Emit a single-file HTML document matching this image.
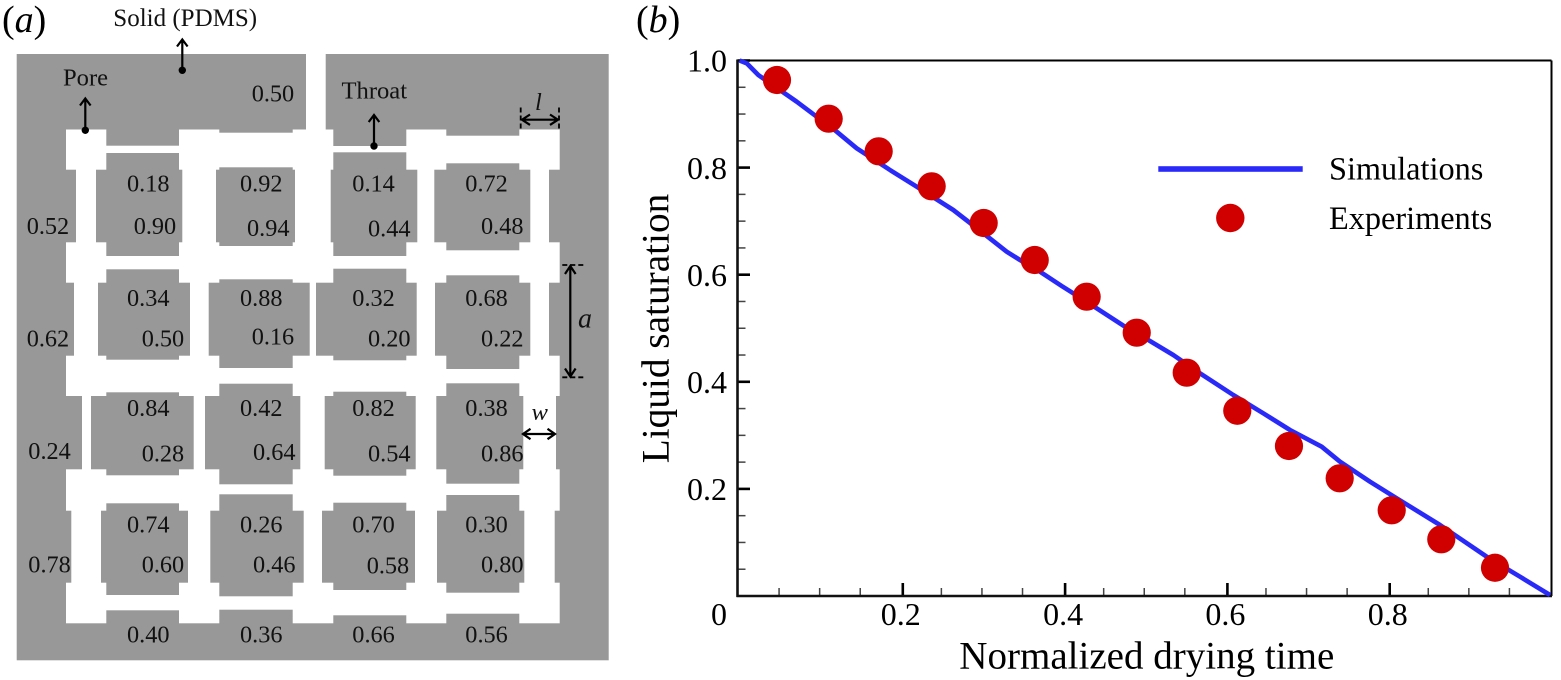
<!DOCTYPE html>
<html lang="en">
<head>
<meta charset="utf-8">
<title>Pore network and drying curve</title>
<style>
html,body{margin:0;padding:0;background:#fff;width:1561px;height:680px;overflow:hidden}
svg{display:block}
text{font-family:"Liberation Serif",serif;fill:#000}
.v{font-size:24.3px;fill:#111}
.a{font-size:24.6px;fill:#111}
.g{fill:#989898}
.arr{fill:none;stroke:#000;stroke-width:2.2}
.dash{stroke:#000;stroke-width:1.8;stroke-dasharray:5 3;fill:none}
.tk{font-size:32px}
</style>
</head>
<body>
<svg xmlns="http://www.w3.org/2000/svg" width="1561" height="680" viewBox="0 0 1561 680">
<rect x="0" y="0" width="1561" height="680" fill="#fff"/>

<g>
<text x="2" y="32" font-size="38">(<tspan font-style="italic">a</tspan>)</text>
<rect class="g" x="16.7" y="54" width="592" height="606.3"/>
<rect x="66" y="129.5" width="493.7" height="493.8" fill="#fff"/>
<rect x="306" y="50" width="19.7" height="82" fill="#fff"/>

<g>
<rect class="g" x="106.3" y="129" width="72.7" height="16.7"/>
<rect class="g" x="219.3" y="129" width="73.4" height="3.7"/>
<rect class="g" x="333.3" y="129" width="73" height="17"/>
<rect class="g" x="446.3" y="129" width="73" height="6.7"/>
</g>
<g>
<rect class="g" x="106.3" y="610.3" width="72.7" height="14"/>
<rect class="g" x="219.3" y="609.7" width="73.4" height="14.6"/>
<rect class="g" x="333.3" y="615.3" width="73" height="9"/>
<rect class="g" x="446.3" y="613.7" width="73" height="10.6"/>
</g>
<g>
<rect class="g" x="65" y="169.7" width="11" height="72.6"/>
<rect class="g" x="65" y="282.7" width="9" height="73"/>
<rect class="g" x="65" y="396" width="17" height="73.3"/>
<rect class="g" x="65" y="510.7" width="6.3" height="72"/>
</g>
<g>
<rect class="g" x="549" y="169.7" width="11.7" height="72.6"/>
<rect class="g" x="549" y="282.7" width="11.7" height="73"/>
<rect class="g" x="556" y="396" width="4.7" height="73.3"/>
<rect class="g" x="554.7" y="510.7" width="6" height="72"/>
</g>

<g><rect class="g" x="106.3" y="153" width="72.7" height="103"/><rect class="g" x="96" y="169.7" width="86.3" height="72.6"/></g>
<g><rect class="g" x="219.3" y="167.3" width="73.4" height="78.7"/><rect class="g" x="216" y="169.7" width="79" height="72.6"/></g>
<g><rect class="g" x="333.3" y="152.3" width="73" height="103.7"/><rect class="g" x="330.7" y="169.7" width="86.6" height="72.6"/></g>
<g><rect class="g" x="446.3" y="163.3" width="73" height="87"/><rect class="g" x="434.3" y="169.7" width="96" height="72.6"/></g>

<g><rect class="g" x="106.3" y="269.3" width="72.7" height="90.4"/><rect class="g" x="98" y="282.7" width="92" height="73"/></g>
<g><rect class="g" x="219.3" y="279.3" width="73.4" height="88.7"/><rect class="g" x="208.7" y="282.7" width="101" height="73"/></g>
<g><rect class="g" x="333.3" y="268.7" width="73" height="91.6"/><rect class="g" x="316" y="282.7" width="100.7" height="73"/></g>
<g><rect class="g" x="446.3" y="275.3" width="73" height="93.7"/><rect class="g" x="435" y="282.7" width="95.3" height="73"/></g>

<g><rect class="g" x="106.3" y="392.3" width="72.7" height="83"/><rect class="g" x="91" y="396" width="102.7" height="73.3"/></g>
<g><rect class="g" x="219.3" y="383.7" width="73.4" height="100.6"/><rect class="g" x="205" y="396" width="95.3" height="73.3"/></g>
<g><rect class="g" x="333.3" y="391.7" width="73" height="84"/><rect class="g" x="324.7" y="396" width="91" height="73.3"/></g>
<g><rect class="g" x="446.3" y="383.3" width="73" height="100.4"/><rect class="g" x="436.3" y="396" width="87" height="73.3"/></g>

<g><rect class="g" x="106.3" y="503.3" width="72.7" height="91.7"/><rect class="g" x="101" y="510.7" width="87" height="72"/></g>
<g><rect class="g" x="219.3" y="494.3" width="73.4" height="102"/><rect class="g" x="210.3" y="510.7" width="93.4" height="72"/></g>
<g><rect class="g" x="333.3" y="502.7" width="73" height="87.3"/><rect class="g" x="322" y="510.7" width="93" height="72"/></g>
<g><rect class="g" x="446.3" y="495" width="73" height="97.7"/><rect class="g" x="437" y="510.7" width="87.3" height="72"/></g>

<g>
<text class="v" x="251.7" y="101.7">0.50</text>
<text class="v" x="127" y="191.7">0.18</text>
<text class="v" x="133.7" y="234">0.90</text>
<text class="v" x="240" y="191.7">0.92</text>
<text class="v" x="247" y="236">0.94</text>
<text class="v" x="26.7" y="234">0.52</text>
<text class="v" x="352.3" y="191.7">0.14</text>
<text class="v" x="368" y="236.7">0.44</text>
<text class="v" x="465.3" y="191.7">0.72</text>
<text class="v" x="481" y="234">0.48</text>
<text class="v" x="127" y="306">0.34</text>
<text class="v" x="141.7" y="346.7">0.50</text>
<text class="v" x="240" y="306">0.88</text>
<text class="v" x="251.7" y="344.7">0.16</text>
<text class="v" x="26.7" y="346.7">0.62</text>
<text class="v" x="352.3" y="306">0.32</text>
<text class="v" x="368" y="346.7">0.20</text>
<text class="v" x="465.3" y="306">0.68</text>
<text class="v" x="481" y="346.7">0.22</text>
<text class="v" x="127" y="416">0.84</text>
<text class="v" x="141.7" y="461.7">0.28</text>
<text class="v" x="240" y="416">0.42</text>
<text class="v" x="253" y="460">0.64</text>
<text class="v" x="28.3" y="459">0.24</text>
<text class="v" x="352.3" y="416">0.82</text>
<text class="v" x="368" y="461.7">0.54</text>
<text class="v" x="465.3" y="416">0.38</text>
<text class="v" x="481" y="461.7">0.86</text>
<text class="v" x="127" y="532.3">0.74</text>
<text class="v" x="141.7" y="572.7">0.60</text>
<text class="v" x="240" y="532.3">0.26</text>
<text class="v" x="253" y="572.7">0.46</text>
<text class="v" x="28.3" y="572.7">0.78</text>
<text class="v" x="352.3" y="532.3">0.70</text>
<text class="v" x="366.7" y="573.7">0.58</text>
<text class="v" x="465.3" y="532.3">0.30</text>
<text class="v" x="481" y="572.7">0.80</text>
<text class="v" x="127" y="642.7">0.40</text>
<text class="v" x="240" y="642.7">0.36</text>
<text class="v" x="352.3" y="642.7">0.66</text>
<text class="v" x="465.3" y="642.7">0.56</text>
</g>

<g>
<text class="a" x="113.3" y="26" style="font-size:25px">Solid (PDMS)</text>
<path class="arr" d="M182.3 70V39.5M177 46.5L182.3 39.5L187.6 46.5"/>
<circle cx="182.3" cy="70.3" r="3.7" fill="#000"/>
</g>
<g>
<text class="a" x="63" y="85.7">Pore</text>
<path class="arr" d="M85.3 130V98.5M80 105.5L85.3 98.5L90.6 105.5"/>
<circle cx="85.3" cy="130.3" r="3.7" fill="#000"/>
</g>
<g>
<text class="a" x="341.5" y="98.7">Throat</text>
<path class="arr" d="M374 146V115M368.7 122L374 115L379.3 122"/>
<circle cx="374" cy="146" r="3.7" fill="#000"/>
</g>
<g>
<text class="a" x="535" y="110" font-style="italic">l</text>
<path class="dash" d="M520.7 107.5V128.5M559 107.5V128.5"/>
<path class="arr" d="M522 119.7H558M530 114.5L522 119.7L530 124.9M550 114.5L558 119.7L550 124.9"/>
</g>
<g>
<text class="a" x="578" y="327.3" font-style="italic" style="font-size:28px">a</text>
<path class="dash" d="M562.3 265H583.3M562.3 377.3H583.3"/>
<path class="arr" d="M570.3 266V376.5M565 274L570.3 266L575.6 274M565 368.5L570.3 376.5L575.6 368.5"/>
</g>
<g>
<text class="a" x="531.5" y="420" font-style="italic">w</text>
<path class="arr" d="M523 434H555M530.5 428.8L523 434L530.5 439.2M547.5 428.8L555 434L547.5 439.2" stroke-width="1.8"/>
</g>
</g>

<g id="panel-b">
<text x="636" y="32" font-size="38">(<tspan font-style="italic">b</tspan>)</text>
<g id="ticks"></g>
<path d="M1551.5 60.5H737.5" fill="none" stroke="#000" stroke-width="2"/>
<path d="M1551.5 60.5V596" fill="none" stroke="#000" stroke-width="2"/>
<path d="M737.5 59.5V597" fill="none" stroke="#111" stroke-width="2.6"/>
<path d="M736.5 596H1552" fill="none" stroke="#111" stroke-width="2.6"/>
<g id="series"></g>
<text x="959.3" y="668.3" font-size="39" textLength="375" lengthAdjust="spacingAndGlyphs">Normalized drying time</text>
<text transform="translate(668.3 463.3) rotate(-90)" font-size="39.3">Liquid saturation</text>
<g>
<g>
<rect x="1158.3" y="166.2" width="144.4" height="5.6" fill="#2a2af8"/>
<text x="1329" y="179.3" font-size="32.3">Simulations</text>
</g>
<g>
<circle cx="1230.3" cy="218" r="14.2" fill="#d00000"/>
<text x="1329" y="229" font-size="32.3">Experiments</text>
</g>
</g>
</g>
</svg>
<script>
const xMajorTicks = [0.2, 0.4, 0.6, 0.8];
const xMinorTicks = [0.05, 0.1, 0.15, 0.25, 0.3, 0.35, 0.45, 0.5, 0.55, 0.65, 0.7, 0.75, 0.85, 0.9, 0.95];
const yMajorTicks = [0.2, 0.4, 0.6, 0.8, 1.0];
const yMinorTicks = [0.05, 0.1, 0.15, 0.25, 0.3, 0.35, 0.45, 0.5, 0.55, 0.65, 0.7, 0.75, 0.85, 0.9, 0.95];
const xTickLabels = ["0.2", "0.4", "0.6", "0.8"];
const yTickLabels = ["0.2", "0.4", "0.6", "0.8", "1.0"];
const originLabel = "0";
const simTime = [0, 0.0089, 0.0232, 0.0705, 0.1198, 0.1444, 0.1855, 0.2184, 0.2635, 0.3001, 0.3293, 0.3457, 0.3703, 0.397, 0.4113, 0.4402, 0.475, 0.5038, 0.5346, 0.5675, 0.6085, 0.6455, 0.6784, 0.7174, 0.74, 0.777, 0.8099, 0.8632, 0.9208, 0.9618, 0.9988];
const simSaturation = [1, 0.9948, 0.9729, 0.9231, 0.867, 0.836, 0.7955, 0.7643, 0.7208, 0.6779, 0.643, 0.6275, 0.6056, 0.5789, 0.5653, 0.5372, 0.5029, 0.4781, 0.45, 0.4159, 0.3754, 0.3412, 0.31, 0.2788, 0.2508, 0.2134, 0.1824, 0.1326, 0.0734, 0.036, 0.0019];
const expTime = [0.0462, 0.1099, 0.1715, 0.2368, 0.3009, 0.3638, 0.4278, 0.4895, 0.5511, 0.6134, 0.6771, 0.7396, 0.8037, 0.8648, 0.931];
const expSaturation = [0.9636, 0.8913, 0.8304, 0.7651, 0.6965, 0.6275, 0.5589, 0.4917, 0.417, 0.346, 0.2801, 0.2198, 0.16, 0.1059, 0.0528];

const NS = "http://www.w3.org/2000/svg";
function xScale(v) { return 739.5 + v * 811.5; }
function yScale(v) { return 596 - v * 535.5; }
const tickLayer = document.getElementById("ticks");
const seriesLayer = document.getElementById("series");

function makeLine(x1, y1, x2, y2, color, width) {
  const l = document.createElementNS(NS, "line");
  l.setAttribute("x1", x1);
  l.setAttribute("y1", y1);
  l.setAttribute("x2", x2);
  l.setAttribute("y2", y2);
  l.setAttribute("stroke", color);
  l.setAttribute("stroke-width", width);
  tickLayer.appendChild(l);
  return l;
}
function makeLabel(x, y, anchor, str) {
  const t = document.createElementNS(NS, "text");
  t.setAttribute("x", x);
  t.setAttribute("y", y);
  t.setAttribute("text-anchor", anchor);
  t.setAttribute("class", "tk");
  t.textContent = str;
  tickLayer.appendChild(t);
  return t;
}

xMinorTicks.forEach(function (v) {
  const el = makeLine(xScale(v) - 1, 596, xScale(v) - 1, 588, "#444", 1.5);
  
  
});
yMinorTicks.forEach(function (v) {
  const el = makeLine(737.5, yScale(v), 745.5, yScale(v), "#444", 1.5);
  
  
});
xMajorTicks.forEach(function (v, i) {
  const el = makeLine(xScale(v) + 1, 596, xScale(v) + 1, 583, "#000", 2.6);
  
  
  const lab = makeLabel(xScale(v) - 1, 625, "middle", xTickLabels[i]);
  
  
});
yMajorTicks.forEach(function (v, i) {
  const el = makeLine(737.5, yScale(v), 750, yScale(v), "#000", 2.6);
  
  
  const lab = makeLabel(727, yScale(v) + 11.2, "end", yTickLabels[i]);
  
  
});
const originEl = makeLabel(727, 625, "end", originLabel);



const simPoints = simTime.map(function (t, i) {
  return xScale(t).toFixed(1) + "," + yScale(simSaturation[i]).toFixed(1);
}).join(" ");
const simLine = document.createElementNS(NS, "polyline");
simLine.setAttribute("points", simPoints);
simLine.setAttribute("fill", "none");
simLine.setAttribute("stroke", "#2a2af8");
simLine.setAttribute("stroke-width", "4.6");
simLine.setAttribute("stroke-linejoin", "round");


seriesLayer.appendChild(simLine);

expTime.forEach(function (t, i) {
  const c = document.createElementNS(NS, "circle");
  c.setAttribute("cx", xScale(t));
  c.setAttribute("cy", yScale(expSaturation[i]));
  c.setAttribute("r", "14.1");
  c.setAttribute("fill", "#d00000");
  
  
  seriesLayer.appendChild(c);
});
</script>
</body>
</html>
